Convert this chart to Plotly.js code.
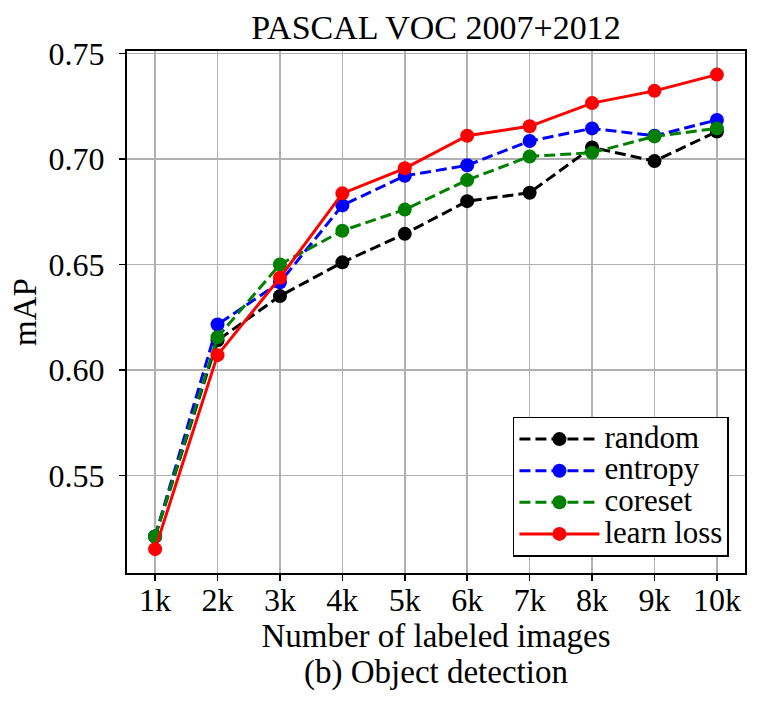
<!DOCTYPE html>
<html>
<head>
<meta charset="utf-8">
<script src="https://cdn.plot.ly/plotly-3.0.1.min.js"></script>
<style>
  html, body { margin: 0; padding: 0; background: #fff; }
  #chart { width: 768px; height: 707px; }
</style>
</head>
<body>
<div id="chart"></div>
<script>
// Labeled-set sizes (index positions 1..10) and their tick labels
const steps = [1, 2, 3, 4, 5, 6, 7, 8, 9, 10];
const tickLabels = ['1k', '2k', '3k', '4k', '5k', '6k', '7k', '8k', '9k', '10k'];

// Method names as shown in the legend
const methods = ['random', 'entropy', 'coreset', 'learn loss'];

// mAP per acquisition method
const randomMAP    = [0.521, 0.614, 0.635, 0.651, 0.6645, 0.680, 0.684, 0.7055, 0.699, 0.713];
const entropyMAP   = [0.521, 0.6215, 0.6415, 0.678, 0.692, 0.697, 0.7085, 0.7145, 0.711, 0.7185];
const coresetMAP   = [0.521, 0.6155, 0.650, 0.666, 0.676, 0.690, 0.7012, 0.703, 0.7107, 0.7145];
const learnLossMAP = [0.515, 0.607, 0.6437, 0.6837, 0.6956, 0.711, 0.7155, 0.7265, 0.7323, 0.740];

const FONT = '"Liberation Serif", "Times New Roman", serif';

function series(name, y, color, dash) {
  return {
    type: 'scatter',
    mode: 'lines+markers',
    // larger label text inside a compact legend row
    name: '<span style="font-size:31px">' + name + '</span>',
    x: steps,
    y: y,
    line: { color: color, width: 3, dash: dash },
    marker: { color: color, size: 14 }
  };
}

const data = [
  series(methods[0], randomMAP, '#000000', '11px,5px'),
  series(methods[1], entropyMAP, '#0000ff', '11px,5px'),
  series(methods[2], coresetMAP, '#008000', '11px,5px'),
  series(methods[3], learnLossMAP, '#ff0000', 'solid')
];

const layout = {
  width: 768,
  height: 707,
  margin: { l: 127, r: 23, t: 51, b: 134 },
  paper_bgcolor: '#ffffff',
  plot_bgcolor: '#ffffff',
  font: { family: FONT, size: 32, color: '#000' },
  title: {
    text: 'PASCAL VOC 2007+2012',
    font: { family: FONT, size: 34, color: '#000' },
    x: 0.5, xref: 'paper',
    y: 1 - 27 / 707, yref: 'container', yanchor: 'middle'
  },
  xaxis: {
    range: [0.55, 10.45],
    tickmode: 'array',
    tickvals: steps,
    ticktext: tickLabels,
    ticks: 'outside', ticklen: 6, tickwidth: 1.5, tickcolor: '#000',
    ticklabelstandoff: -8,
    showline: true, linecolor: '#000', linewidth: 2, mirror: true,
    showgrid: true, gridcolor: '#b0b0b0', gridwidth: 1.5,
    zeroline: false,
    tickfont: { family: FONT, size: 32 },
    title: { text: 'Number of labeled images', font: { family: FONT, size: 33 }, standoff: 5 }
  },
  yaxis: {
    range: [0.5037, 0.7512],
    tickmode: 'array',
    tickvals: [0.55, 0.60, 0.65, 0.70, 0.75],
    ticktext: ['0.55', '0.60', '0.65', '0.70', '0.75'],
    ticks: 'outside', ticklen: 6, tickwidth: 1.5, tickcolor: '#000',
    ticklabelstandoff: 8,
    showline: true, linecolor: '#000', linewidth: 2, mirror: true,
    showgrid: true, gridcolor: '#b0b0b0', gridwidth: 1.5,
    zeroline: false,
    tickfont: { family: FONT, size: 32 },
    title: { text: 'mAP', font: { family: FONT, size: 33 }, standoff: 2 }
  },
  showlegend: true,
  legend: {
    x: 0.974, y: 0.031, xanchor: 'right', yanchor: 'bottom',
    bgcolor: '#ffffff', bordercolor: '#000', borderwidth: 1.5,
    font: { family: FONT, size: 22 },
    tracegroupgap: 0,
    itemwidth: 80
  },
  annotations: [{
    text: '(b) Object detection',
    xref: 'paper', yref: 'paper',
    x: 0.5, y: -0.19, yanchor: 'middle',
    showarrow: false,
    font: { family: FONT, size: 33, color: '#000' }
  }]
};

Plotly.newPlot('chart', data, layout, { displayModeBar: false, staticPlot: true });
</script>
</body>
</html>
